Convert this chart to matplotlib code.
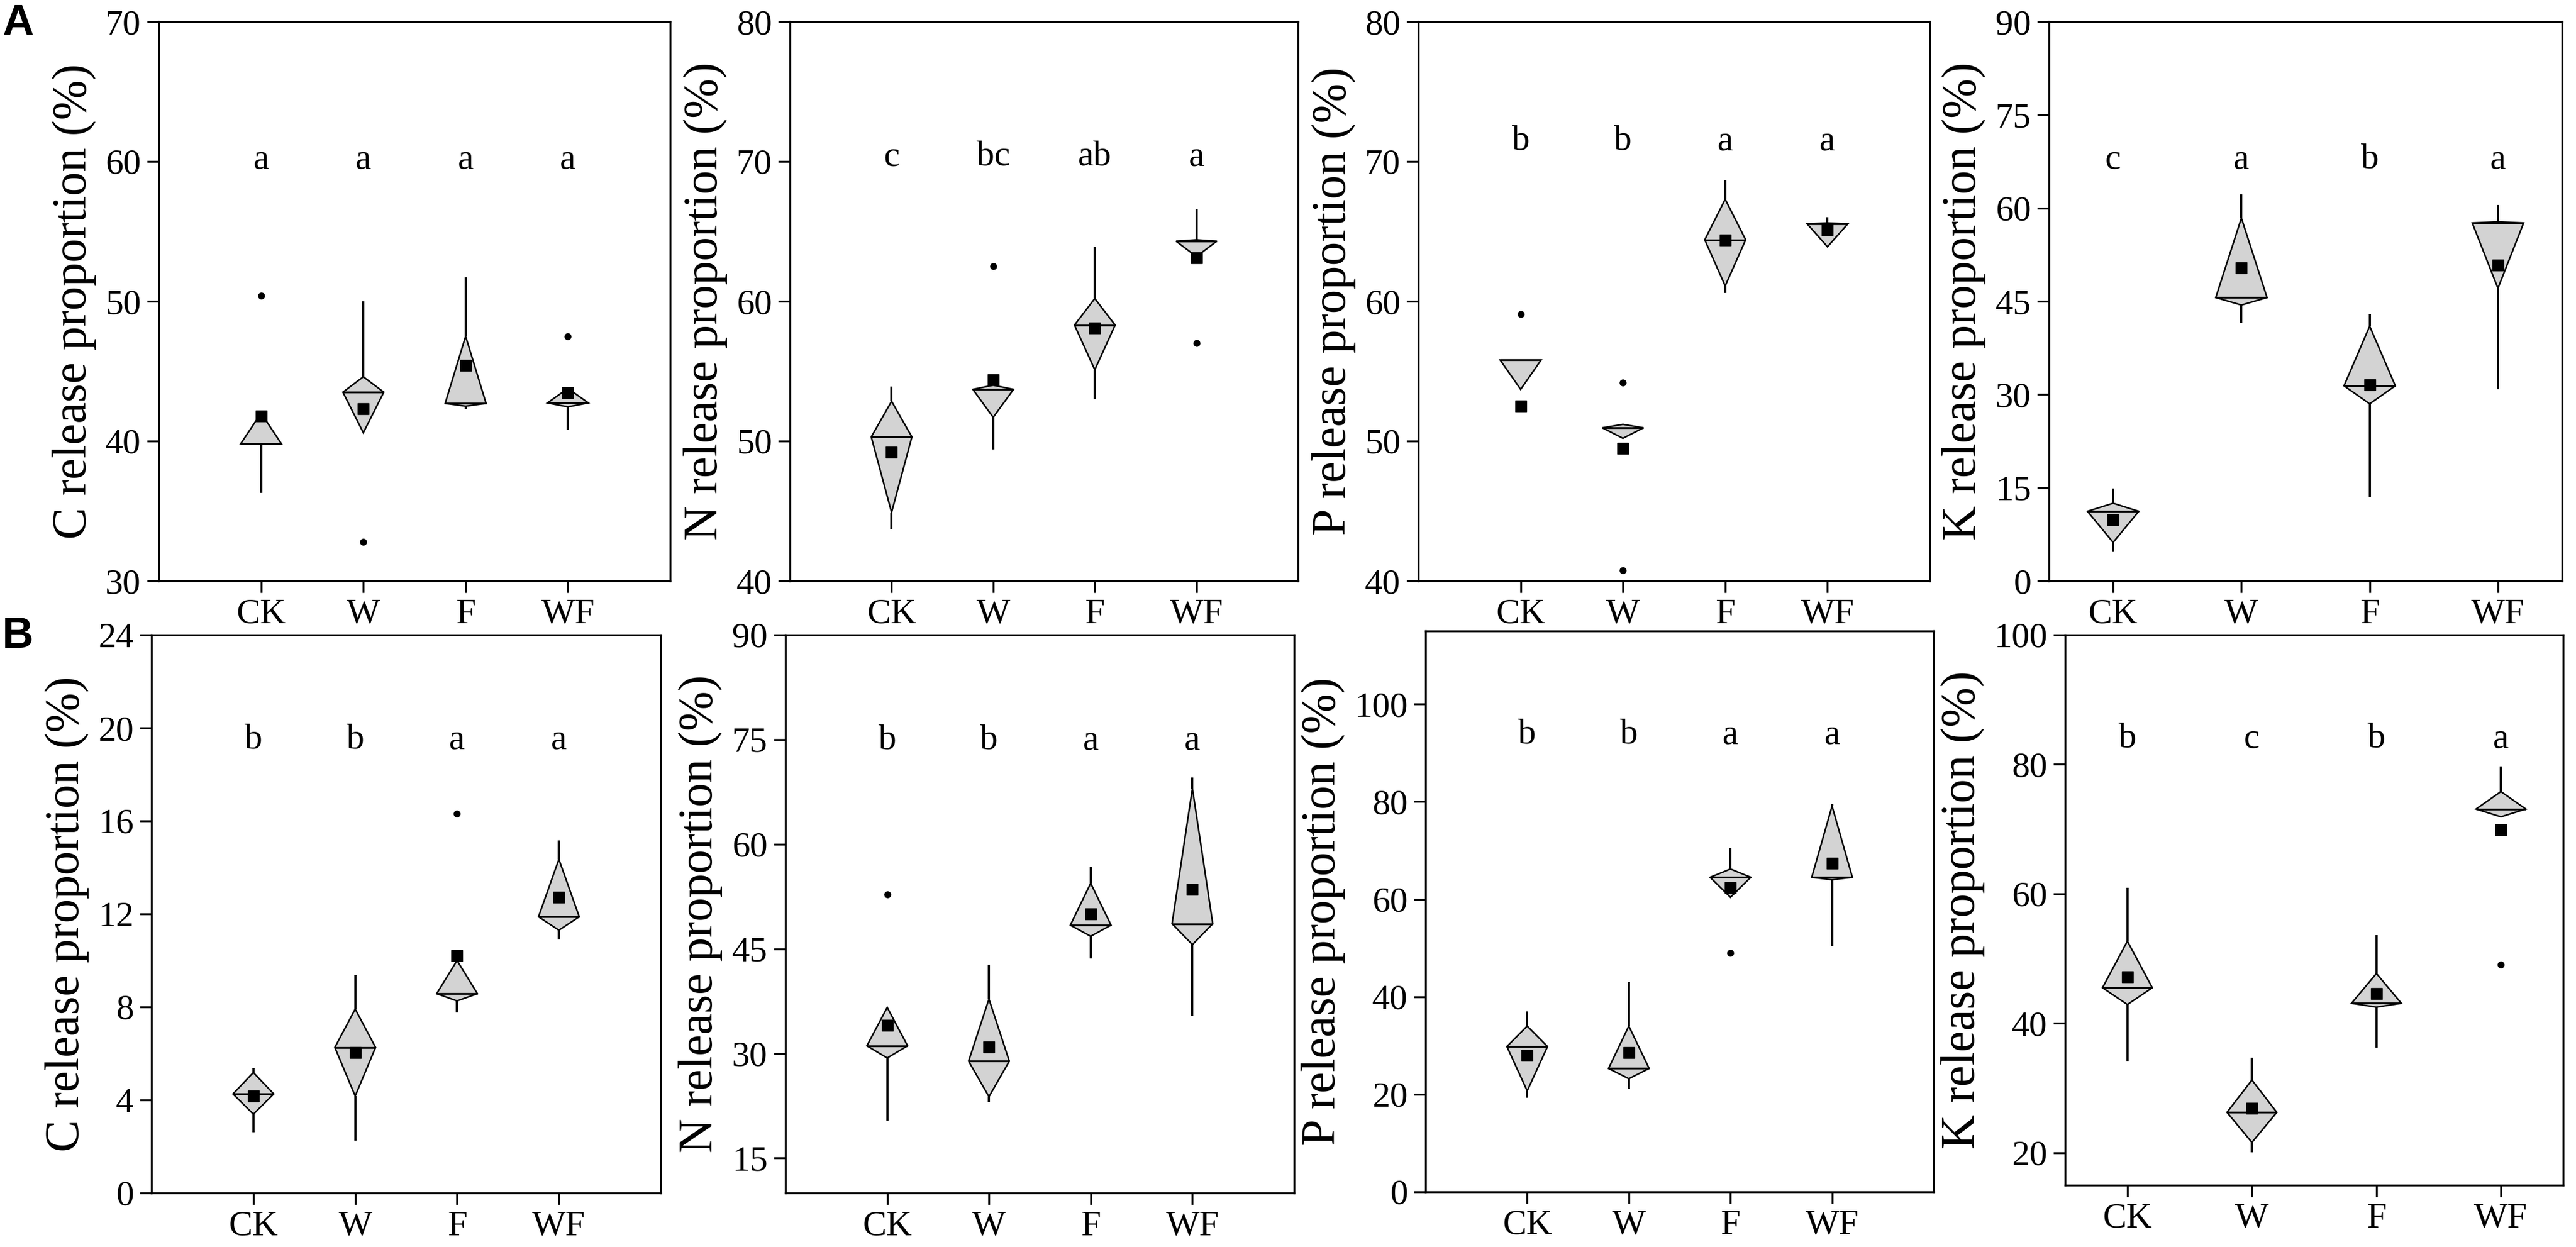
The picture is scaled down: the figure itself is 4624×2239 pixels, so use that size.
import matplotlib
matplotlib.use("Agg")
import matplotlib.pyplot as plt
from matplotlib.patches import Polygon

plt.rcParams['font.family'] = ['Liberation Serif', 'DejaVu Serif']

groups = ["CK", "W", "F", "WF"]

# five-number summaries per group: [whisker low, Q1, median, Q3, whisker high]
a_c_box = [[36.3, 39.8, 39.8, 42.0, 42.0], [40.6, 40.6, 43.5, 44.6, 50.0],
           [42.3, 42.5, 42.7, 47.5, 51.7], [40.8, 42.45, 42.73, 43.77, 43.77]]
a_c_mean = [41.8, 42.3, 45.4, 43.45]
a_c_out = [[50.4], [32.8], [], [47.5]]
a_c_letters = ["a", "a", "a", "a"]

a_n_box = [[43.7, 44.9, 50.3, 52.85, 53.9], [49.4, 51.7, 53.7, 54.0, 54.0],
           [53.0, 55.1, 58.3, 60.2, 63.9], [63.2, 63.2, 64.3, 64.4, 66.6]]
a_n_mean = [49.2, 54.4, 58.1, 63.1]
a_n_out = [[], [62.5], [], [57.0]]
a_n_letters = ["c", "bc", "ab", "a"]

a_p_box = [[53.7, 53.7, 55.8, 55.8, 55.8], [50.2, 50.2, 50.95, 51.2, 51.2],
           [60.6, 61.1, 64.4, 67.3, 68.7], [63.9, 63.9, 65.55, 65.6, 66.0]]
a_p_mean = [52.5, 49.5, 64.4, 65.1]
a_p_out = [[59.1], [54.2, 40.75], [], []]
a_p_letters = ["b", "b", "a", "a"]

a_k_box = [[4.65, 6.2, 11.2, 12.5, 14.9], [41.5, 44.4, 45.6, 58.4, 62.2],
           [13.5, 28.5, 31.4, 41.0, 42.9], [30.8, 47.1, 57.6, 57.8, 60.5]]
a_k_mean = [9.9, 50.4, 31.55, 50.8]
a_k_out = [[], [], [], []]
a_k_letters = ["c", "a", "b", "a"]

b_c_box = [[2.61, 3.39, 4.26, 5.18, 5.36], [2.26, 4.17, 6.26, 7.91, 9.36],
           [7.77, 8.26, 8.57, 10.0, 10.0], [10.9, 11.3, 11.88, 14.35, 15.17]]
b_c_mean = [4.17, 6.03, 10.21, 12.73]
b_c_out = [[], [], [16.31], []]
b_c_letters = ["b", "b", "a", "a"]

b_n_box = [[20.35, 29.35, 31.1, 36.6, 36.6], [23.0, 23.8, 28.9, 37.8, 42.7],
           [43.6, 46.8, 48.4, 54.4, 56.8], [35.4, 45.6, 48.6, 68.0, 69.6]]
b_n_mean = [34.0, 30.9, 50.0, 53.5]
b_n_out = [[52.8], [], [], []]
b_n_letters = ["b", "b", "a", "a"]

b_p_box = [[19.3, 20.7, 29.8, 34.0, 37.0], [21.1, 23.2, 25.3, 34.0, 43.1],
           [60.4, 60.4, 64.5, 66.2, 70.5], [50.4, 64.0, 64.5, 79.1, 79.5]]
b_p_mean = [28.0, 28.6, 62.3, 67.4]
b_p_out = [[], [], [49.0], []]
b_p_letters = ["b", "b", "a", "a"]

b_k_box = [[34.1, 42.9, 45.5, 52.7, 60.9], [20.1, 21.6, 26.25, 31.25, 34.7],
           [36.25, 42.5, 43.1, 47.7, 53.6], [71.9, 71.9, 73.1, 75.8, 79.7]]
b_k_mean = [47.2, 26.9, 44.6, 69.9]
b_k_out = [[], [], [], [49.1]]
b_k_letters = ["b", "c", "b", "a"]

W, H = 4624, 2239
fig = plt.figure(figsize=(W / 100, H / 100), dpi=100)


def make_axes(left, right, top, bottom):
    return fig.add_axes([left / W, 1 - bottom / H, (right - left) / W,
                         (bottom - top) / H])


def draw_panel(ax, boxes, means, outs, letters, letter_y, ylim, yticks,
               xlim, element):
    xs = list(range(1, len(groups) + 1))
    hw = 0.2
    for x, (lo, q1, med, q3, hi) in zip(xs, boxes):
        ax.vlines(x, lo, q1, color="black", lw=2.8, zorder=2)
        ax.vlines(x, q3, hi, color="black", lw=2.8, zorder=2)
        diamond = Polygon([(x, q1), (x + hw, med), (x, q3), (x - hw, med)],
                          closed=True, facecolor="#d3d3d3",
                          edgecolor="black", lw=2.0, zorder=3)
        ax.add_patch(diamond)
        ax.hlines(med, x - hw, x + hw, color="black", lw=2.4, zorder=4)
    for x, vals in zip(xs, outs):
        if vals:
            ax.plot([x] * len(vals), vals, "o", color="black", ms=8,
                    zorder=5)
    ax.plot(xs, means, "s", color="black", ms=14, zorder=6)
    for x, lab in zip(xs, letters):
        ax.text(x, letter_y, lab, ha="center", va="baseline", fontsize=46)

    ax.set_xlim(*xlim)
    ax.set_ylim(*ylim)
    ax.set_yticks(yticks)
    ax.set_xticks(xs)
    ax.set_xticklabels(groups)
    ax.tick_params(axis="both", direction="out", length=15, width=2.5,
                   labelsize=46, pad=8, top=False, right=False)
    for sp in ax.spines.values():
        sp.set_linewidth(2.5)
    ax.set_ylabel(element + " release proportion (%)", fontsize=62,
                  labelpad=12)


# top row (A)
ax = make_axes(285, 1203, 39, 1043)
draw_panel(ax, a_c_box, a_c_mean, a_c_out, a_c_letters, 59.5, (30, 70),
           range(30, 71, 10), (0, 5), "C")
ax = make_axes(1418, 2330, 39, 1043)
draw_panel(ax, a_n_box, a_n_mean, a_n_out, a_n_letters, 69.7, (40, 80),
           range(40, 81, 10), (0, 5), "N")
ax = make_axes(2546, 3464, 39, 1043)
draw_panel(ax, a_p_box, a_p_mean, a_p_out, a_p_letters, 70.8, (40, 80),
           range(40, 81, 10), (0, 5), "P")
ax = make_axes(3678, 4599, 39, 1043)
draw_panel(ax, a_k_box, a_k_mean, a_k_out, a_k_letters, 66.4, (0, 90),
           range(0, 91, 15), (0.5, 4.5), "K")

# bottom row (B)
ax = make_axes(272, 1186, 1140, 2142)
draw_panel(ax, b_c_box, b_c_mean, b_c_out, b_c_letters, 19.1, (0, 24),
           range(0, 25, 4), (0, 5), "C")
ax = make_axes(1410, 2323, 1140, 2142)
draw_panel(ax, b_n_box, b_n_mean, b_n_out, b_n_letters, 73.6, (10, 90),
           range(15, 91, 15), (0, 5), "N")
ax = make_axes(2559, 3471, 1133, 2140)
draw_panel(ax, b_p_box, b_p_mean, b_p_out, b_p_letters, 91.9, (0, 115),
           range(0, 101, 20), (0, 5), "P")
ax = make_axes(3707, 4601, 1140, 2128)
draw_panel(ax, b_k_box, b_k_mean, b_k_out, b_k_letters, 82.6, (15, 100),
           range(20, 101, 20), (0.5, 4.5), "K")

fig.text(4 / W, 1 - 6 / H, "A", fontsize=56, fontweight="bold",
         family="Liberation Sans", ha="left", va="top")
fig.text(4 / W, 1 - 1106 / H, "B", fontsize=56, fontweight="bold",
         family="Liberation Sans", ha="left", va="top")

fig.savefig("out.png", dpi=100, facecolor="white")
